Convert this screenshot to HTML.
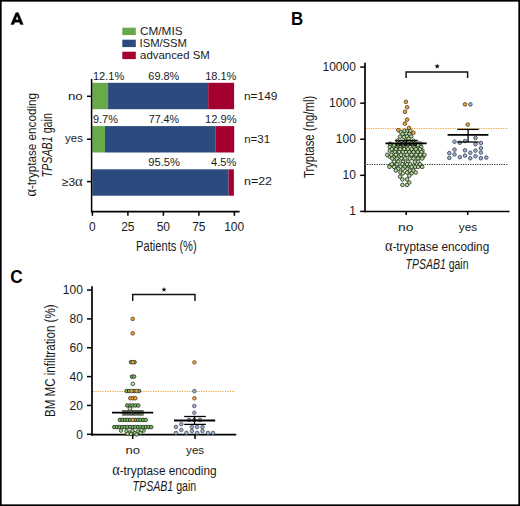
<!DOCTYPE html>
<html><head><meta charset="utf-8"><style>
html,body{margin:0;padding:0;background:#fff;}
#f{position:absolute;left:0;top:0;width:520px;height:506px;overflow:hidden;}
svg{display:block;font-family:"Liberation Sans",sans-serif;}
</style></head><body><div id="f">
<svg width="520" height="506" viewBox="0 0 520 506">
<rect x="0" y="0" width="520" height="506" fill="#fff"/>
<path fill-rule="evenodd" fill="#000" stroke="#000" stroke-width="0.3" stroke-linejoin="round" d="M10.8,24.6 L15.7,12.8 Q17.1,12.2 18.5,12.8 L23.3,24.6 L20.3,24.6 L19.4,22.2 L14.8,22.2 L13.9,24.6 Z M15.6,19.7 L18.6,19.7 L17.1,15.7 Z"/>
<rect x="122.3" y="27.7" width="13.5" height="7.4" fill="#68a94a"/>
<rect x="122.3" y="39.7" width="13.5" height="7.4" fill="#2c4a7e"/>
<rect x="122.3" y="51.7" width="13.5" height="7.4" fill="#a3002f"/>
<text x="140.01" y="34.80" font-size="11" font-weight="normal" font-style="normal" fill="#1a1a1a" textLength="42.53" lengthAdjust="spacingAndGlyphs">CM/MIS</text>
<text x="139.59" y="46.80" font-size="11" font-weight="normal" font-style="normal" fill="#1a1a1a" textLength="47.34" lengthAdjust="spacingAndGlyphs">ISM/SSM</text>
<text x="140.14" y="58.80" font-size="11" font-weight="normal" font-style="normal" fill="#1a1a1a" textLength="69.62" lengthAdjust="spacingAndGlyphs">advanced SM</text>
<rect x="92.3" y="82.8" width="15.8" height="26.4" fill="#68a94a"/>
<rect x="108.1" y="82.8" width="100.1" height="26.4" fill="#2c4a7e"/>
<rect x="208.2" y="82.8" width="25.9" height="26.4" fill="#a3002f"/>
<rect x="92.3" y="126.1" width="12.7" height="26.4" fill="#68a94a"/>
<rect x="105.0" y="126.1" width="110.7" height="26.4" fill="#2c4a7e"/>
<rect x="215.7" y="126.1" width="18.5" height="26.4" fill="#a3002f"/>
<rect x="92.3" y="169.3" width="136.3" height="26.4" fill="#2c4a7e"/>
<rect x="228.6" y="169.3" width="5.3" height="26.4" fill="#a3002f"/>
<text x="92.97" y="80.40" font-size="11" font-weight="normal" font-style="normal" fill="#1a1a1a" textLength="31.32" lengthAdjust="spacingAndGlyphs">12.1%</text>
<text x="148.36" y="80.20" font-size="11" font-weight="normal" font-style="normal" fill="#1a1a1a" textLength="30.83" lengthAdjust="spacingAndGlyphs">69.8%</text>
<text x="205.17" y="80.40" font-size="11" font-weight="normal" font-style="normal" fill="#1a1a1a" textLength="31.22" lengthAdjust="spacingAndGlyphs">18.1%</text>
<text x="92.91" y="123.20" font-size="11" font-weight="normal" font-style="normal" fill="#1a1a1a" textLength="24.97" lengthAdjust="spacingAndGlyphs">9.7%</text>
<text x="148.66" y="123.00" font-size="11" font-weight="normal" font-style="normal" fill="#1a1a1a" textLength="30.52" lengthAdjust="spacingAndGlyphs">77.4%</text>
<text x="204.96" y="123.20" font-size="11" font-weight="normal" font-style="normal" fill="#1a1a1a" textLength="31.63" lengthAdjust="spacingAndGlyphs">12.9%</text>
<text x="148.20" y="165.90" font-size="11" font-weight="normal" font-style="normal" fill="#1a1a1a" textLength="31.80" lengthAdjust="spacingAndGlyphs">95.5%</text>
<text x="211.08" y="165.90" font-size="11" font-weight="normal" font-style="normal" fill="#1a1a1a" textLength="25.41" lengthAdjust="spacingAndGlyphs">4.5%</text>
<line x1="91.6" y1="78.8" x2="91.6" y2="212.5" stroke="#000" stroke-width="1.5" />
<line x1="91.1" y1="211.7" x2="239.6" y2="211.7" stroke="#000" stroke-width="1.7" />
<line x1="87.0" y1="96.3" x2="91.6" y2="96.3" stroke="#000" stroke-width="1.5" />
<line x1="87.0" y1="139.2" x2="91.6" y2="139.2" stroke="#000" stroke-width="1.5" />
<line x1="87.0" y1="181.6" x2="91.6" y2="181.6" stroke="#000" stroke-width="1.5" />
<line x1="92.4" y1="211.7" x2="92.4" y2="215.8" stroke="#000" stroke-width="1.5" />
<line x1="127.9" y1="211.7" x2="127.9" y2="215.8" stroke="#000" stroke-width="1.5" />
<line x1="163.4" y1="211.7" x2="163.4" y2="215.8" stroke="#000" stroke-width="1.5" />
<line x1="198.9" y1="211.7" x2="198.9" y2="215.8" stroke="#000" stroke-width="1.5" />
<line x1="234.4" y1="211.7" x2="234.4" y2="215.8" stroke="#000" stroke-width="1.5" />
<text x="89.04" y="231.00" font-size="12" font-weight="normal" font-style="normal" fill="#1a1a1a" textLength="6.67" lengthAdjust="spacingAndGlyphs">0</text>
<text x="121.18" y="231.00" font-size="12" font-weight="normal" font-style="normal" fill="#1a1a1a" textLength="13.35" lengthAdjust="spacingAndGlyphs">25</text>
<text x="156.71" y="231.00" font-size="12" font-weight="normal" font-style="normal" fill="#1a1a1a" textLength="13.35" lengthAdjust="spacingAndGlyphs">50</text>
<text x="192.18" y="231.00" font-size="12" font-weight="normal" font-style="normal" fill="#1a1a1a" textLength="13.35" lengthAdjust="spacingAndGlyphs">75</text>
<text x="224.17" y="231.00" font-size="12" font-weight="normal" font-style="normal" fill="#1a1a1a" textLength="20.02" lengthAdjust="spacingAndGlyphs">100</text>
<text x="136.11" y="250.70" font-size="14" font-weight="normal" font-style="normal" fill="#1a1a1a" textLength="60.57" lengthAdjust="spacingAndGlyphs">Patients (%)</text>
<text x="67.93" y="99.80" font-size="10.8" font-weight="normal" font-style="normal" fill="#1a1a1a" textLength="14.83" lengthAdjust="spacingAndGlyphs">no</text>
<text x="65.04" y="142.40" font-size="10.8" font-weight="normal" font-style="normal" fill="#1a1a1a" textLength="17.87" lengthAdjust="spacingAndGlyphs">yes</text>
<text x="61.83" y="185.80" font-size="11.5" font-weight="normal" font-style="normal" fill="#1a1a1a" textLength="20.92" lengthAdjust="spacingAndGlyphs">≥3<tspan font-family="Liberation Serif" font-size="1.22em">α</tspan></text>
<text x="243.92" y="99.50" font-size="11.5" font-weight="normal" font-style="normal" fill="#1a1a1a" textLength="33.60" lengthAdjust="spacingAndGlyphs">n=149</text>
<text x="244.15" y="142.80" font-size="11.5" font-weight="normal" font-style="normal" fill="#1a1a1a" textLength="25.89" lengthAdjust="spacingAndGlyphs">n=31</text>
<text x="243.99" y="185.20" font-size="11.5" font-weight="normal" font-style="normal" fill="#1a1a1a" textLength="27.96" lengthAdjust="spacingAndGlyphs">n=22</text>
<text transform="translate(35.50,196.00) rotate(-90)" x="-0.57" y="0" font-size="13.4" fill="#1a1a1a" textLength="103.56" lengthAdjust="spacingAndGlyphs"><tspan font-family="Liberation Serif" font-size="1.22em">α</tspan>-tryptase encoding</text>
<text transform="translate(52.00,177.20) rotate(-90)" x="-0.21" y="0" font-size="14" font-weight="normal" font-style="normal" fill="#1a1a1a" textLength="64.30" lengthAdjust="spacingAndGlyphs"><tspan font-style="italic">TPSAB1</tspan> gain</text>
<text x="291.00" y="24.90" font-size="17.5" font-weight="bold" font-style="normal" fill="#000" textLength="12.19" lengthAdjust="spacingAndGlyphs">B</text>
<line x1="365.0" y1="62.8" x2="365.0" y2="212.3" stroke="#000" stroke-width="1.7" />
<line x1="364.2" y1="211.5" x2="509.5" y2="211.5" stroke="#000" stroke-width="1.7" />
<line x1="360.2" y1="211.4" x2="365.0" y2="211.4" stroke="#000" stroke-width="1.5" />
<text x="349.28" y="215.40" font-size="12" font-weight="normal" font-style="normal" fill="#1a1a1a" textLength="6.67" lengthAdjust="spacingAndGlyphs">1</text>
<line x1="360.2" y1="175.32" x2="365.0" y2="175.32" stroke="#000" stroke-width="1.5" />
<text x="342.50" y="179.32" font-size="12" font-weight="normal" font-style="normal" fill="#1a1a1a" textLength="13.35" lengthAdjust="spacingAndGlyphs">10</text>
<line x1="360.2" y1="139.24" x2="365.0" y2="139.24" stroke="#000" stroke-width="1.5" />
<text x="335.84" y="143.24" font-size="12" font-weight="normal" font-style="normal" fill="#1a1a1a" textLength="20.02" lengthAdjust="spacingAndGlyphs">100</text>
<line x1="360.2" y1="103.16000000000001" x2="365.0" y2="103.16000000000001" stroke="#000" stroke-width="1.5" />
<text x="329.12" y="107.16" font-size="12" font-weight="normal" font-style="normal" fill="#1a1a1a" textLength="26.70" lengthAdjust="spacingAndGlyphs">1000</text>
<line x1="360.2" y1="67.08000000000001" x2="365.0" y2="67.08000000000001" stroke="#000" stroke-width="1.5" />
<text x="322.46" y="71.08" font-size="12" font-weight="normal" font-style="normal" fill="#1a1a1a" textLength="33.37" lengthAdjust="spacingAndGlyphs">10000</text>
<line x1="406.2" y1="211.5" x2="406.2" y2="215.0" stroke="#000" stroke-width="1.5" />
<line x1="467.7" y1="211.5" x2="467.7" y2="215.0" stroke="#000" stroke-width="1.5" />
<text x="398.09" y="230.90" font-size="10.8" font-weight="normal" font-style="normal" fill="#1a1a1a" textLength="15.50" lengthAdjust="spacingAndGlyphs">no</text>
<text x="458.84" y="230.90" font-size="10.8" font-weight="normal" font-style="normal" fill="#1a1a1a" textLength="18.39" lengthAdjust="spacingAndGlyphs">yes</text>
<text x="384.93" y="251.20" font-size="13.4" fill="#1a1a1a" textLength="104.26" lengthAdjust="spacingAndGlyphs"><tspan font-family="Liberation Serif" font-size="1.22em">α</tspan>-tryptase encoding</text>
<text x="405.59" y="268.50" font-size="14" font-weight="normal" font-style="normal" fill="#1a1a1a" textLength="62.88" lengthAdjust="spacingAndGlyphs"><tspan font-style="italic">TPSAB1</tspan> gain</text>
<text transform="translate(313.80,177.90) rotate(-90)" x="-0.23" y="0" font-size="14" font-weight="normal" font-style="normal" fill="#1a1a1a" textLength="82.34" lengthAdjust="spacingAndGlyphs">Tryptase (ng/ml)</text>
<text x="10.31" y="283.00" font-size="17.5" font-weight="bold" font-style="normal" fill="#000" textLength="12.46" lengthAdjust="spacingAndGlyphs">C</text>
<line x1="92.0" y1="286.3" x2="92.0" y2="435.4" stroke="#000" stroke-width="1.7" />
<line x1="91.2" y1="434.6" x2="236.2" y2="434.6" stroke="#000" stroke-width="1.7" />
<line x1="87.0" y1="434.3" x2="92.0" y2="434.3" stroke="#000" stroke-width="1.5" />
<text x="76.16" y="438.60" font-size="12" font-weight="normal" font-style="normal" fill="#1a1a1a" textLength="6.67" lengthAdjust="spacingAndGlyphs">0</text>
<line x1="87.0" y1="405.45" x2="92.0" y2="405.45" stroke="#000" stroke-width="1.5" />
<text x="69.50" y="409.75" font-size="12" font-weight="normal" font-style="normal" fill="#1a1a1a" textLength="13.35" lengthAdjust="spacingAndGlyphs">20</text>
<line x1="87.0" y1="376.6" x2="92.0" y2="376.6" stroke="#000" stroke-width="1.5" />
<text x="69.50" y="380.90" font-size="12" font-weight="normal" font-style="normal" fill="#1a1a1a" textLength="13.35" lengthAdjust="spacingAndGlyphs">40</text>
<line x1="87.0" y1="347.75" x2="92.0" y2="347.75" stroke="#000" stroke-width="1.5" />
<text x="69.50" y="352.05" font-size="12" font-weight="normal" font-style="normal" fill="#1a1a1a" textLength="13.35" lengthAdjust="spacingAndGlyphs">60</text>
<line x1="87.0" y1="318.90000000000003" x2="92.0" y2="318.90000000000003" stroke="#000" stroke-width="1.5" />
<text x="69.50" y="323.20" font-size="12" font-weight="normal" font-style="normal" fill="#1a1a1a" textLength="13.35" lengthAdjust="spacingAndGlyphs">80</text>
<line x1="87.0" y1="290.05" x2="92.0" y2="290.05" stroke="#000" stroke-width="1.5" />
<text x="62.84" y="294.35" font-size="12" font-weight="normal" font-style="normal" fill="#1a1a1a" textLength="20.02" lengthAdjust="spacingAndGlyphs">100</text>
<line x1="132.7" y1="434.3" x2="132.7" y2="439.0" stroke="#000" stroke-width="1.5" />
<line x1="195.0" y1="434.3" x2="195.0" y2="439.0" stroke="#000" stroke-width="1.5" />
<text x="125.55" y="453.80" font-size="10.8" font-weight="normal" font-style="normal" fill="#1a1a1a" textLength="14.61" lengthAdjust="spacingAndGlyphs">no</text>
<text x="186.14" y="453.80" font-size="10.8" font-weight="normal" font-style="normal" fill="#1a1a1a" textLength="17.98" lengthAdjust="spacingAndGlyphs">yes</text>
<text x="112.13" y="474.60" font-size="13.4" fill="#1a1a1a" textLength="104.47" lengthAdjust="spacingAndGlyphs"><tspan font-family="Liberation Serif" font-size="1.22em">α</tspan>-tryptase encoding</text>
<text x="132.59" y="491.40" font-size="14" font-weight="normal" font-style="normal" fill="#1a1a1a" textLength="63.69" lengthAdjust="spacingAndGlyphs"><tspan font-style="italic">TPSAB1</tspan> gain</text>
<text transform="translate(54.50,416.10) rotate(-90)" x="-0.93" y="0" font-size="14" font-weight="normal" font-style="normal" fill="#1a1a1a" textLength="112.57" lengthAdjust="spacingAndGlyphs">BM MC infiltration (%)</text>
<path d="M366 128.5H508" stroke="#eca036" stroke-width="1" stroke-dasharray="1.2 1.2"/>
<path d="M367 164.5H508" stroke="#2a2a2a" stroke-width="1" stroke-dasharray="1.2 1.2"/>
<polyline points="406.1,77.9 406.1,72.0 467.6,72.0 467.6,77.9" fill="none" stroke="#111" stroke-width="1.45"/>
<polygon points="437.20,63.60 437.88,65.37 439.77,65.47 438.29,66.66 438.79,68.48 437.20,67.45 435.61,68.48 436.11,66.66 434.63,65.47 436.52,65.37" fill="#111"/>
<circle cx="389.80" cy="146.90" r="1.8" fill="#b6df9f" stroke="#1f271b" stroke-width="0.8"/>
<circle cx="393.20" cy="146.90" r="1.8" fill="#b6df9f" stroke="#1f271b" stroke-width="0.8"/>
<circle cx="396.60" cy="146.90" r="1.8" fill="#b6df9f" stroke="#1f271b" stroke-width="0.8"/>
<circle cx="400.20" cy="146.90" r="1.8" fill="#b6df9f" stroke="#1f271b" stroke-width="0.8"/>
<circle cx="404.00" cy="146.90" r="1.8" fill="#b6df9f" stroke="#1f271b" stroke-width="0.8"/>
<circle cx="414.20" cy="146.90" r="1.8" fill="#b6df9f" stroke="#1f271b" stroke-width="0.8"/>
<circle cx="417.60" cy="146.90" r="1.8" fill="#b6df9f" stroke="#1f271b" stroke-width="0.8"/>
<circle cx="421.20" cy="146.90" r="1.8" fill="#b6df9f" stroke="#1f271b" stroke-width="0.8"/>
<circle cx="389.80" cy="150.60" r="1.8" fill="#b6df9f" stroke="#1f271b" stroke-width="0.8"/>
<circle cx="393.60" cy="150.60" r="1.8" fill="#b6df9f" stroke="#1f271b" stroke-width="0.8"/>
<circle cx="397.60" cy="150.60" r="1.8" fill="#b6df9f" stroke="#1f271b" stroke-width="0.8"/>
<circle cx="406.00" cy="150.60" r="1.8" fill="#b6df9f" stroke="#1f271b" stroke-width="0.8"/>
<circle cx="410.00" cy="150.60" r="1.8" fill="#b6df9f" stroke="#1f271b" stroke-width="0.8"/>
<circle cx="414.00" cy="150.60" r="1.8" fill="#b6df9f" stroke="#1f271b" stroke-width="0.8"/>
<circle cx="418.00" cy="150.60" r="1.8" fill="#b6df9f" stroke="#1f271b" stroke-width="0.8"/>
<circle cx="422.50" cy="150.60" r="1.8" fill="#b6df9f" stroke="#1f271b" stroke-width="0.8"/>
<circle cx="389.60" cy="156.60" r="1.8" fill="#b6df9f" stroke="#1f271b" stroke-width="0.8"/>
<circle cx="394.00" cy="156.60" r="1.8" fill="#b6df9f" stroke="#1f271b" stroke-width="0.8"/>
<circle cx="399.00" cy="156.60" r="1.8" fill="#b6df9f" stroke="#1f271b" stroke-width="0.8"/>
<circle cx="403.40" cy="156.60" r="1.8" fill="#b6df9f" stroke="#1f271b" stroke-width="0.8"/>
<circle cx="411.00" cy="156.60" r="1.8" fill="#b6df9f" stroke="#1f271b" stroke-width="0.8"/>
<circle cx="415.00" cy="156.60" r="1.8" fill="#b6df9f" stroke="#1f271b" stroke-width="0.8"/>
<circle cx="419.60" cy="156.60" r="1.8" fill="#b6df9f" stroke="#1f271b" stroke-width="0.8"/>
<circle cx="423.20" cy="156.60" r="1.8" fill="#b6df9f" stroke="#1f271b" stroke-width="0.8"/>
<circle cx="389.80" cy="165.60" r="1.8" fill="#b6df9f" stroke="#1f271b" stroke-width="0.8"/>
<circle cx="396.00" cy="165.60" r="1.8" fill="#b6df9f" stroke="#1f271b" stroke-width="0.8"/>
<circle cx="404.80" cy="165.60" r="1.8" fill="#b6df9f" stroke="#1f271b" stroke-width="0.8"/>
<circle cx="408.80" cy="165.60" r="1.8" fill="#b6df9f" stroke="#1f271b" stroke-width="0.8"/>
<circle cx="413.80" cy="165.60" r="1.8" fill="#b6df9f" stroke="#1f271b" stroke-width="0.8"/>
<circle cx="420.60" cy="165.60" r="1.8" fill="#b6df9f" stroke="#1f271b" stroke-width="0.8"/>
<circle cx="400.70" cy="131.90" r="1.8" fill="#b6df9f" stroke="#1f271b" stroke-width="0.8"/>
<circle cx="404.50" cy="130.80" r="1.8" fill="#b6df9f" stroke="#1f271b" stroke-width="0.8"/>
<circle cx="407.30" cy="131.20" r="1.8" fill="#b6df9f" stroke="#1f271b" stroke-width="0.8"/>
<circle cx="410.40" cy="130.80" r="1.8" fill="#b6df9f" stroke="#1f271b" stroke-width="0.8"/>
<circle cx="402.50" cy="134.00" r="1.8" fill="#b6df9f" stroke="#1f271b" stroke-width="0.8"/>
<circle cx="406.30" cy="133.60" r="1.8" fill="#b6df9f" stroke="#1f271b" stroke-width="0.8"/>
<circle cx="409.40" cy="134.00" r="1.8" fill="#b6df9f" stroke="#1f271b" stroke-width="0.8"/>
<circle cx="400.00" cy="136.70" r="1.8" fill="#b6df9f" stroke="#1f271b" stroke-width="0.8"/>
<circle cx="403.90" cy="137.10" r="1.8" fill="#b6df9f" stroke="#1f271b" stroke-width="0.8"/>
<circle cx="407.00" cy="136.40" r="1.8" fill="#b6df9f" stroke="#1f271b" stroke-width="0.8"/>
<circle cx="411.10" cy="136.40" r="1.8" fill="#b6df9f" stroke="#1f271b" stroke-width="0.8"/>
<circle cx="408.70" cy="138.80" r="1.8" fill="#b6df9f" stroke="#1f271b" stroke-width="0.8"/>
<circle cx="397.50" cy="140.50" r="1.8" fill="#b6df9f" stroke="#1f271b" stroke-width="0.8"/>
<circle cx="401.50" cy="141.50" r="1.8" fill="#b6df9f" stroke="#1f271b" stroke-width="0.8"/>
<circle cx="405.50" cy="140.80" r="1.8" fill="#b6df9f" stroke="#1f271b" stroke-width="0.8"/>
<circle cx="409.50" cy="141.50" r="1.8" fill="#b6df9f" stroke="#1f271b" stroke-width="0.8"/>
<circle cx="413.50" cy="140.80" r="1.8" fill="#b6df9f" stroke="#1f271b" stroke-width="0.8"/>
<circle cx="416.50" cy="141.80" r="1.8" fill="#b6df9f" stroke="#1f271b" stroke-width="0.8"/>
<circle cx="399.50" cy="143.20" r="1.8" fill="#b6df9f" stroke="#1f271b" stroke-width="0.8"/>
<circle cx="403.50" cy="143.50" r="1.8" fill="#b6df9f" stroke="#1f271b" stroke-width="0.8"/>
<circle cx="411.50" cy="143.20" r="1.8" fill="#b6df9f" stroke="#1f271b" stroke-width="0.8"/>
<circle cx="415.00" cy="143.50" r="1.8" fill="#b6df9f" stroke="#1f271b" stroke-width="0.8"/>
<circle cx="390.00" cy="143.80" r="1.8" fill="#b6df9f" stroke="#1f271b" stroke-width="0.8"/>
<circle cx="420.50" cy="143.60" r="1.8" fill="#b6df9f" stroke="#1f271b" stroke-width="0.8"/>
<circle cx="394.10" cy="145.10" r="1.8" fill="#b6df9f" stroke="#1f271b" stroke-width="0.8"/>
<circle cx="398.20" cy="145.10" r="1.8" fill="#b6df9f" stroke="#1f271b" stroke-width="0.8"/>
<circle cx="402.90" cy="145.10" r="1.8" fill="#b6df9f" stroke="#1f271b" stroke-width="0.8"/>
<circle cx="407.90" cy="145.10" r="1.8" fill="#b6df9f" stroke="#1f271b" stroke-width="0.8"/>
<circle cx="412.50" cy="145.10" r="1.8" fill="#b6df9f" stroke="#1f271b" stroke-width="0.8"/>
<circle cx="418.10" cy="145.10" r="1.8" fill="#b6df9f" stroke="#1f271b" stroke-width="0.8"/>
<circle cx="391.80" cy="149.20" r="1.8" fill="#b6df9f" stroke="#1f271b" stroke-width="0.8"/>
<circle cx="395.90" cy="149.20" r="1.8" fill="#b6df9f" stroke="#1f271b" stroke-width="0.8"/>
<circle cx="400.10" cy="149.20" r="1.8" fill="#b6df9f" stroke="#1f271b" stroke-width="0.8"/>
<circle cx="404.20" cy="149.20" r="1.8" fill="#b6df9f" stroke="#1f271b" stroke-width="0.8"/>
<circle cx="407.90" cy="149.20" r="1.8" fill="#b6df9f" stroke="#1f271b" stroke-width="0.8"/>
<circle cx="411.60" cy="149.20" r="1.8" fill="#b6df9f" stroke="#1f271b" stroke-width="0.8"/>
<circle cx="415.80" cy="149.20" r="1.8" fill="#b6df9f" stroke="#1f271b" stroke-width="0.8"/>
<circle cx="419.90" cy="149.20" r="1.8" fill="#b6df9f" stroke="#1f271b" stroke-width="0.8"/>
<circle cx="395.00" cy="152.00" r="1.8" fill="#b6df9f" stroke="#1f271b" stroke-width="0.8"/>
<circle cx="399.20" cy="152.00" r="1.8" fill="#b6df9f" stroke="#1f271b" stroke-width="0.8"/>
<circle cx="402.90" cy="152.00" r="1.8" fill="#b6df9f" stroke="#1f271b" stroke-width="0.8"/>
<circle cx="406.00" cy="152.00" r="1.8" fill="#b6df9f" stroke="#1f271b" stroke-width="0.8"/>
<circle cx="409.30" cy="152.00" r="1.8" fill="#b6df9f" stroke="#1f271b" stroke-width="0.8"/>
<circle cx="413.50" cy="152.00" r="1.8" fill="#b6df9f" stroke="#1f271b" stroke-width="0.8"/>
<circle cx="417.60" cy="152.00" r="1.8" fill="#b6df9f" stroke="#1f271b" stroke-width="0.8"/>
<circle cx="421.50" cy="152.00" r="1.8" fill="#b6df9f" stroke="#1f271b" stroke-width="0.8"/>
<circle cx="387.20" cy="154.80" r="1.8" fill="#b6df9f" stroke="#1f271b" stroke-width="0.8"/>
<circle cx="391.30" cy="154.80" r="1.8" fill="#b6df9f" stroke="#1f271b" stroke-width="0.8"/>
<circle cx="395.90" cy="154.80" r="1.8" fill="#b6df9f" stroke="#1f271b" stroke-width="0.8"/>
<circle cx="401.00" cy="154.80" r="1.8" fill="#b6df9f" stroke="#1f271b" stroke-width="0.8"/>
<circle cx="407.00" cy="154.80" r="1.8" fill="#b6df9f" stroke="#1f271b" stroke-width="0.8"/>
<circle cx="411.60" cy="154.80" r="1.8" fill="#b6df9f" stroke="#1f271b" stroke-width="0.8"/>
<circle cx="416.20" cy="154.80" r="1.8" fill="#b6df9f" stroke="#1f271b" stroke-width="0.8"/>
<circle cx="420.40" cy="154.80" r="1.8" fill="#b6df9f" stroke="#1f271b" stroke-width="0.8"/>
<circle cx="424.50" cy="154.80" r="1.8" fill="#b6df9f" stroke="#1f271b" stroke-width="0.8"/>
<circle cx="392.20" cy="158.50" r="1.8" fill="#b6df9f" stroke="#1f271b" stroke-width="0.8"/>
<circle cx="396.90" cy="158.50" r="1.8" fill="#b6df9f" stroke="#1f271b" stroke-width="0.8"/>
<circle cx="401.50" cy="158.50" r="1.8" fill="#b6df9f" stroke="#1f271b" stroke-width="0.8"/>
<circle cx="405.20" cy="158.50" r="1.8" fill="#b6df9f" stroke="#1f271b" stroke-width="0.8"/>
<circle cx="409.80" cy="158.50" r="1.8" fill="#b6df9f" stroke="#1f271b" stroke-width="0.8"/>
<circle cx="413.50" cy="158.50" r="1.8" fill="#b6df9f" stroke="#1f271b" stroke-width="0.8"/>
<circle cx="418.10" cy="158.50" r="1.8" fill="#b6df9f" stroke="#1f271b" stroke-width="0.8"/>
<circle cx="422.20" cy="158.50" r="1.8" fill="#b6df9f" stroke="#1f271b" stroke-width="0.8"/>
<circle cx="394.10" cy="161.70" r="1.8" fill="#b6df9f" stroke="#1f271b" stroke-width="0.8"/>
<circle cx="398.20" cy="161.70" r="1.8" fill="#b6df9f" stroke="#1f271b" stroke-width="0.8"/>
<circle cx="402.90" cy="161.70" r="1.8" fill="#b6df9f" stroke="#1f271b" stroke-width="0.8"/>
<circle cx="408.00" cy="161.70" r="1.8" fill="#b6df9f" stroke="#1f271b" stroke-width="0.8"/>
<circle cx="414.90" cy="161.70" r="1.8" fill="#b6df9f" stroke="#1f271b" stroke-width="0.8"/>
<circle cx="418.10" cy="161.70" r="1.8" fill="#b6df9f" stroke="#1f271b" stroke-width="0.8"/>
<circle cx="391.80" cy="164.20" r="1.8" fill="#b6df9f" stroke="#1f271b" stroke-width="0.8"/>
<circle cx="397.00" cy="164.20" r="1.8" fill="#b6df9f" stroke="#1f271b" stroke-width="0.8"/>
<circle cx="402.40" cy="164.20" r="1.8" fill="#b6df9f" stroke="#1f271b" stroke-width="0.8"/>
<circle cx="407.00" cy="164.20" r="1.8" fill="#b6df9f" stroke="#1f271b" stroke-width="0.8"/>
<circle cx="410.20" cy="164.20" r="1.8" fill="#b6df9f" stroke="#1f271b" stroke-width="0.8"/>
<circle cx="419.90" cy="164.20" r="1.8" fill="#b6df9f" stroke="#1f271b" stroke-width="0.8"/>
<circle cx="389.50" cy="166.90" r="1.8" fill="#b6df9f" stroke="#1f271b" stroke-width="0.8"/>
<circle cx="394.10" cy="166.90" r="1.8" fill="#b6df9f" stroke="#1f271b" stroke-width="0.8"/>
<circle cx="400.50" cy="166.90" r="1.8" fill="#b6df9f" stroke="#1f271b" stroke-width="0.8"/>
<circle cx="404.70" cy="166.90" r="1.8" fill="#b6df9f" stroke="#1f271b" stroke-width="0.8"/>
<circle cx="411.60" cy="166.90" r="1.8" fill="#b6df9f" stroke="#1f271b" stroke-width="0.8"/>
<circle cx="415.30" cy="166.90" r="1.8" fill="#b6df9f" stroke="#1f271b" stroke-width="0.8"/>
<circle cx="418.10" cy="166.90" r="1.8" fill="#b6df9f" stroke="#1f271b" stroke-width="0.8"/>
<circle cx="422.20" cy="166.90" r="1.8" fill="#b6df9f" stroke="#1f271b" stroke-width="0.8"/>
<circle cx="398.20" cy="168.80" r="1.8" fill="#b6df9f" stroke="#1f271b" stroke-width="0.8"/>
<circle cx="402.90" cy="168.80" r="1.8" fill="#b6df9f" stroke="#1f271b" stroke-width="0.8"/>
<circle cx="407.50" cy="168.80" r="1.8" fill="#b6df9f" stroke="#1f271b" stroke-width="0.8"/>
<circle cx="395.90" cy="170.60" r="1.8" fill="#b6df9f" stroke="#1f271b" stroke-width="0.8"/>
<circle cx="409.80" cy="170.60" r="1.8" fill="#b6df9f" stroke="#1f271b" stroke-width="0.8"/>
<circle cx="413.50" cy="170.60" r="1.8" fill="#b6df9f" stroke="#1f271b" stroke-width="0.8"/>
<circle cx="400.50" cy="172.50" r="1.8" fill="#b6df9f" stroke="#1f271b" stroke-width="0.8"/>
<circle cx="407.00" cy="172.50" r="1.8" fill="#b6df9f" stroke="#1f271b" stroke-width="0.8"/>
<circle cx="415.80" cy="172.50" r="1.8" fill="#b6df9f" stroke="#1f271b" stroke-width="0.8"/>
<circle cx="402.90" cy="173.40" r="1.8" fill="#b6df9f" stroke="#1f271b" stroke-width="0.8"/>
<circle cx="411.60" cy="173.40" r="1.8" fill="#b6df9f" stroke="#1f271b" stroke-width="0.8"/>
<circle cx="409.30" cy="175.70" r="1.8" fill="#b6df9f" stroke="#1f271b" stroke-width="0.8"/>
<circle cx="400.10" cy="176.60" r="1.8" fill="#b6df9f" stroke="#1f271b" stroke-width="0.8"/>
<circle cx="402.40" cy="179.40" r="1.8" fill="#b6df9f" stroke="#1f271b" stroke-width="0.8"/>
<circle cx="407.00" cy="179.40" r="1.8" fill="#b6df9f" stroke="#1f271b" stroke-width="0.8"/>
<circle cx="409.30" cy="182.60" r="1.8" fill="#b6df9f" stroke="#1f271b" stroke-width="0.8"/>
<circle cx="402.40" cy="184.90" r="1.8" fill="#b6df9f" stroke="#1f271b" stroke-width="0.8"/>
<circle cx="407.00" cy="184.90" r="1.8" fill="#b6df9f" stroke="#1f271b" stroke-width="0.8"/>
<circle cx="405.90" cy="101.80" r="1.8" fill="#f2a63e" stroke="#4a3418" stroke-width="0.8"/>
<circle cx="407.10" cy="107.30" r="1.8" fill="#f2a63e" stroke="#4a3418" stroke-width="0.8"/>
<circle cx="405.00" cy="111.80" r="1.8" fill="#f2a63e" stroke="#4a3418" stroke-width="0.8"/>
<circle cx="407.10" cy="119.60" r="1.8" fill="#f2a63e" stroke="#4a3418" stroke-width="0.8"/>
<circle cx="404.90" cy="123.60" r="1.8" fill="#f2a63e" stroke="#4a3418" stroke-width="0.8"/>
<circle cx="409.00" cy="127.90" r="1.8" fill="#f2a63e" stroke="#4a3418" stroke-width="0.8"/>
<circle cx="398.30" cy="130.10" r="1.8" fill="#f2a63e" stroke="#4a3418" stroke-width="0.8"/>
<circle cx="413.40" cy="132.80" r="1.8" fill="#f2a63e" stroke="#4a3418" stroke-width="0.8"/>
<line x1="385.4" y1="143.4" x2="426.7" y2="143.4" stroke="#000" stroke-width="1.8" />
<line x1="395.0" y1="140.7" x2="417.1" y2="140.7" stroke="#000" stroke-width="1.2" />
<line x1="395.0" y1="145.0" x2="417.1" y2="145.0" stroke="#000" stroke-width="1.2" />
<line x1="406.1" y1="140.7" x2="406.1" y2="145.0" stroke="#000" stroke-width="1.2" />
<circle cx="470.40" cy="104.40" r="1.8" fill="#9eb0d2" stroke="#363c4a" stroke-width="0.8"/>
<circle cx="454.50" cy="141.70" r="1.8" fill="#9eb0d2" stroke="#363c4a" stroke-width="0.8"/>
<circle cx="459.80" cy="142.70" r="1.8" fill="#9eb0d2" stroke="#363c4a" stroke-width="0.8"/>
<circle cx="465.00" cy="141.00" r="1.8" fill="#9eb0d2" stroke="#363c4a" stroke-width="0.8"/>
<circle cx="475.50" cy="138.00" r="1.8" fill="#9eb0d2" stroke="#363c4a" stroke-width="0.8"/>
<circle cx="475.50" cy="144.20" r="1.8" fill="#9eb0d2" stroke="#363c4a" stroke-width="0.8"/>
<circle cx="480.90" cy="143.00" r="1.8" fill="#9eb0d2" stroke="#363c4a" stroke-width="0.8"/>
<circle cx="480.90" cy="148.20" r="1.8" fill="#9eb0d2" stroke="#363c4a" stroke-width="0.8"/>
<circle cx="454.50" cy="149.60" r="1.8" fill="#9eb0d2" stroke="#363c4a" stroke-width="0.8"/>
<circle cx="465.00" cy="150.30" r="1.8" fill="#9eb0d2" stroke="#363c4a" stroke-width="0.8"/>
<circle cx="475.50" cy="150.60" r="1.8" fill="#9eb0d2" stroke="#363c4a" stroke-width="0.8"/>
<circle cx="449.30" cy="153.10" r="1.8" fill="#9eb0d2" stroke="#363c4a" stroke-width="0.8"/>
<circle cx="454.50" cy="154.40" r="1.8" fill="#9eb0d2" stroke="#363c4a" stroke-width="0.8"/>
<circle cx="470.30" cy="152.80" r="1.8" fill="#9eb0d2" stroke="#363c4a" stroke-width="0.8"/>
<circle cx="480.90" cy="152.50" r="1.8" fill="#9eb0d2" stroke="#363c4a" stroke-width="0.8"/>
<circle cx="465.00" cy="155.60" r="1.8" fill="#9eb0d2" stroke="#363c4a" stroke-width="0.8"/>
<circle cx="449.30" cy="157.90" r="1.8" fill="#9eb0d2" stroke="#363c4a" stroke-width="0.8"/>
<circle cx="459.80" cy="157.20" r="1.8" fill="#9eb0d2" stroke="#363c4a" stroke-width="0.8"/>
<circle cx="470.30" cy="158.30" r="1.8" fill="#9eb0d2" stroke="#363c4a" stroke-width="0.8"/>
<circle cx="475.50" cy="156.20" r="1.8" fill="#9eb0d2" stroke="#363c4a" stroke-width="0.8"/>
<circle cx="480.90" cy="158.20" r="1.8" fill="#9eb0d2" stroke="#363c4a" stroke-width="0.8"/>
<circle cx="486.30" cy="157.60" r="1.8" fill="#9eb0d2" stroke="#363c4a" stroke-width="0.8"/>
<circle cx="465.00" cy="104.40" r="1.8" fill="#f2a63e" stroke="#4a3418" stroke-width="0.8"/>
<circle cx="467.70" cy="124.60" r="1.8" fill="#f2a63e" stroke="#4a3418" stroke-width="0.8"/>
<line x1="447.6" y1="134.8" x2="488.4" y2="134.8" stroke="#000" stroke-width="1.8" />
<line x1="457.3" y1="129.4" x2="478.7" y2="129.4" stroke="#000" stroke-width="1.3" />
<line x1="457.3" y1="142.0" x2="478.7" y2="142.0" stroke="#000" stroke-width="1.3" />
<line x1="468.1" y1="129.4" x2="468.1" y2="142.0" stroke="#000" stroke-width="1.3" />
<path d="M93 391.5H235" stroke="#eca036" stroke-width="1" stroke-dasharray="1.2 1.2"/>
<polyline points="132.7,300.9 132.7,294.5 195.0,294.5 195.0,300.9" fill="none" stroke="#111" stroke-width="1.45"/>
<polygon points="164.00,286.90 164.68,288.67 166.57,288.77 165.09,289.96 165.59,291.78 164.00,290.75 162.41,291.78 162.91,289.96 161.43,288.77 163.32,288.67" fill="#111"/>
<circle cx="132.70" cy="318.90" r="1.8" fill="#f2a63e" stroke="#4a3418" stroke-width="0.8"/>
<circle cx="132.70" cy="333.33" r="1.8" fill="#f2a63e" stroke="#4a3418" stroke-width="0.8"/>
<circle cx="131.00" cy="362.18" r="1.8" fill="#79b862" stroke="#1e2a19" stroke-width="0.8"/>
<circle cx="134.50" cy="362.18" r="1.8" fill="#79b862" stroke="#1e2a19" stroke-width="0.8"/>
<circle cx="132.75" cy="362.18" r="1.8" fill="#f2a63e" stroke="#4a3418" stroke-width="0.8"/>
<circle cx="132.00" cy="376.60" r="1.8" fill="#79b862" stroke="#1e2a19" stroke-width="0.8"/>
<circle cx="134.10" cy="376.60" r="1.8" fill="#79b862" stroke="#1e2a19" stroke-width="0.8"/>
<circle cx="132.80" cy="383.81" r="1.8" fill="#cdeebc" stroke="#1e2a19" stroke-width="0.8"/>
<circle cx="126.60" cy="391.03" r="1.8" fill="#79b862" stroke="#1e2a19" stroke-width="0.8"/>
<circle cx="129.10" cy="391.03" r="1.8" fill="#79b862" stroke="#1e2a19" stroke-width="0.8"/>
<circle cx="134.10" cy="391.03" r="1.8" fill="#79b862" stroke="#1e2a19" stroke-width="0.8"/>
<circle cx="139.10" cy="391.03" r="1.8" fill="#79b862" stroke="#1e2a19" stroke-width="0.8"/>
<circle cx="131.60" cy="391.03" r="1.8" fill="#f2a63e" stroke="#4a3418" stroke-width="0.8"/>
<circle cx="136.60" cy="391.03" r="1.8" fill="#f2a63e" stroke="#4a3418" stroke-width="0.8"/>
<circle cx="130.30" cy="398.24" r="1.8" fill="#f2a63e" stroke="#4a3418" stroke-width="0.8"/>
<circle cx="132.80" cy="398.24" r="1.8" fill="#f2a63e" stroke="#4a3418" stroke-width="0.8"/>
<circle cx="135.30" cy="398.24" r="1.8" fill="#f2a63e" stroke="#4a3418" stroke-width="0.8"/>
<circle cx="127.20" cy="405.45" r="1.8" fill="#79b862" stroke="#1e2a19" stroke-width="0.8"/>
<circle cx="129.95" cy="405.45" r="1.8" fill="#79b862" stroke="#1e2a19" stroke-width="0.8"/>
<circle cx="132.70" cy="405.45" r="1.8" fill="#79b862" stroke="#1e2a19" stroke-width="0.8"/>
<circle cx="135.45" cy="405.45" r="1.8" fill="#79b862" stroke="#1e2a19" stroke-width="0.8"/>
<circle cx="138.20" cy="405.45" r="1.8" fill="#79b862" stroke="#1e2a19" stroke-width="0.8"/>
<circle cx="129.90" cy="408.70" r="1.8" fill="#cdeebc" stroke="#1e2a19" stroke-width="0.8"/>
<circle cx="124.00" cy="412.66" r="1.8" fill="#79b862" stroke="#1e2a19" stroke-width="0.8"/>
<circle cx="126.53" cy="412.66" r="1.8" fill="#79b862" stroke="#1e2a19" stroke-width="0.8"/>
<circle cx="129.06" cy="412.66" r="1.8" fill="#79b862" stroke="#1e2a19" stroke-width="0.8"/>
<circle cx="131.59" cy="412.66" r="1.8" fill="#79b862" stroke="#1e2a19" stroke-width="0.8"/>
<circle cx="134.11" cy="412.66" r="1.8" fill="#79b862" stroke="#1e2a19" stroke-width="0.8"/>
<circle cx="136.64" cy="412.66" r="1.8" fill="#79b862" stroke="#1e2a19" stroke-width="0.8"/>
<circle cx="139.17" cy="412.66" r="1.8" fill="#79b862" stroke="#1e2a19" stroke-width="0.8"/>
<circle cx="141.70" cy="412.66" r="1.8" fill="#79b862" stroke="#1e2a19" stroke-width="0.8"/>
<circle cx="119.90" cy="419.88" r="1.8" fill="#79b862" stroke="#1e2a19" stroke-width="0.8"/>
<circle cx="122.48" cy="419.88" r="1.8" fill="#79b862" stroke="#1e2a19" stroke-width="0.8"/>
<circle cx="125.06" cy="419.88" r="1.8" fill="#79b862" stroke="#1e2a19" stroke-width="0.8"/>
<circle cx="127.64" cy="419.88" r="1.8" fill="#79b862" stroke="#1e2a19" stroke-width="0.8"/>
<circle cx="130.22" cy="419.88" r="1.8" fill="#79b862" stroke="#1e2a19" stroke-width="0.8"/>
<circle cx="135.38" cy="419.88" r="1.8" fill="#79b862" stroke="#1e2a19" stroke-width="0.8"/>
<circle cx="137.96" cy="419.88" r="1.8" fill="#79b862" stroke="#1e2a19" stroke-width="0.8"/>
<circle cx="140.54" cy="419.88" r="1.8" fill="#79b862" stroke="#1e2a19" stroke-width="0.8"/>
<circle cx="143.12" cy="419.88" r="1.8" fill="#79b862" stroke="#1e2a19" stroke-width="0.8"/>
<circle cx="145.70" cy="419.88" r="1.8" fill="#79b862" stroke="#1e2a19" stroke-width="0.8"/>
<circle cx="132.80" cy="419.88" r="1.8" fill="#f2a63e" stroke="#4a3418" stroke-width="0.8"/>
<circle cx="114.30" cy="427.09" r="1.8" fill="#79b862" stroke="#1e2a19" stroke-width="0.8"/>
<circle cx="116.94" cy="427.09" r="1.8" fill="#79b862" stroke="#1e2a19" stroke-width="0.8"/>
<circle cx="119.57" cy="427.09" r="1.8" fill="#79b862" stroke="#1e2a19" stroke-width="0.8"/>
<circle cx="122.21" cy="427.09" r="1.8" fill="#79b862" stroke="#1e2a19" stroke-width="0.8"/>
<circle cx="124.84" cy="427.09" r="1.8" fill="#79b862" stroke="#1e2a19" stroke-width="0.8"/>
<circle cx="127.48" cy="427.09" r="1.8" fill="#79b862" stroke="#1e2a19" stroke-width="0.8"/>
<circle cx="130.11" cy="427.09" r="1.8" fill="#79b862" stroke="#1e2a19" stroke-width="0.8"/>
<circle cx="132.75" cy="427.09" r="1.8" fill="#79b862" stroke="#1e2a19" stroke-width="0.8"/>
<circle cx="135.39" cy="427.09" r="1.8" fill="#79b862" stroke="#1e2a19" stroke-width="0.8"/>
<circle cx="138.02" cy="427.09" r="1.8" fill="#79b862" stroke="#1e2a19" stroke-width="0.8"/>
<circle cx="140.66" cy="427.09" r="1.8" fill="#79b862" stroke="#1e2a19" stroke-width="0.8"/>
<circle cx="143.29" cy="427.09" r="1.8" fill="#79b862" stroke="#1e2a19" stroke-width="0.8"/>
<circle cx="145.93" cy="427.09" r="1.8" fill="#79b862" stroke="#1e2a19" stroke-width="0.8"/>
<circle cx="148.56" cy="427.09" r="1.8" fill="#79b862" stroke="#1e2a19" stroke-width="0.8"/>
<circle cx="151.20" cy="427.09" r="1.8" fill="#79b862" stroke="#1e2a19" stroke-width="0.8"/>
<circle cx="121.00" cy="430.60" r="1.8" fill="#9fd488" stroke="#1e2a19" stroke-width="0.7"/>
<circle cx="143.60" cy="430.60" r="1.8" fill="#9fd488" stroke="#1e2a19" stroke-width="0.7"/>
<circle cx="126.50" cy="431.20" r="1.8" fill="#9fd488" stroke="#1e2a19" stroke-width="0.7"/>
<circle cx="129.50" cy="432.60" r="1.8" fill="#9fd488" stroke="#1e2a19" stroke-width="0.7"/>
<circle cx="132.50" cy="431.00" r="1.8" fill="#9fd488" stroke="#1e2a19" stroke-width="0.7"/>
<circle cx="135.00" cy="433.20" r="1.8" fill="#9fd488" stroke="#1e2a19" stroke-width="0.7"/>
<circle cx="138.00" cy="431.50" r="1.8" fill="#9fd488" stroke="#1e2a19" stroke-width="0.7"/>
<circle cx="140.50" cy="432.80" r="1.8" fill="#9fd488" stroke="#1e2a19" stroke-width="0.7"/>
<circle cx="131.00" cy="434.00" r="1.8" fill="#9fd488" stroke="#1e2a19" stroke-width="0.7"/>
<circle cx="136.50" cy="434.50" r="1.8" fill="#9fd488" stroke="#1e2a19" stroke-width="0.7"/>
<circle cx="127.50" cy="433.80" r="1.8" fill="#9fd488" stroke="#1e2a19" stroke-width="0.7"/>
<circle cx="141.50" cy="430.00" r="1.8" fill="#9fd488" stroke="#1e2a19" stroke-width="0.7"/>
<line x1="112.0" y1="412.7" x2="153.2" y2="412.7" stroke="#000" stroke-width="1.8" />
<line x1="121.9" y1="410.8" x2="143.8" y2="410.8" stroke="#555" stroke-width="1.3" />
<line x1="121.9" y1="415.0" x2="143.8" y2="415.0" stroke="#555" stroke-width="1.3" />
<line x1="132.7" y1="410.8" x2="132.7" y2="415.0" stroke="#333" stroke-width="1.2" />
<circle cx="194.40" cy="362.40" r="1.8" fill="#f2a63e" stroke="#4a3418" stroke-width="0.7"/>
<circle cx="194.40" cy="391.10" r="1.8" fill="#9eb0d2" stroke="#363c4a" stroke-width="0.7"/>
<circle cx="194.40" cy="398.30" r="1.8" fill="#f2a63e" stroke="#4a3418" stroke-width="0.7"/>
<circle cx="194.30" cy="406.00" r="1.8" fill="#9eb0d2" stroke="#363c4a" stroke-width="0.7"/>
<circle cx="194.30" cy="412.70" r="1.8" fill="#9eb0d2" stroke="#363c4a" stroke-width="0.7"/>
<circle cx="189.00" cy="419.90" r="1.8" fill="#9eb0d2" stroke="#363c4a" stroke-width="0.7"/>
<circle cx="194.30" cy="419.90" r="1.8" fill="#9eb0d2" stroke="#363c4a" stroke-width="0.7"/>
<circle cx="200.00" cy="419.90" r="1.8" fill="#9eb0d2" stroke="#363c4a" stroke-width="0.7"/>
<circle cx="181.30" cy="424.20" r="1.8" fill="#9eb0d2" stroke="#363c4a" stroke-width="0.7"/>
<circle cx="176.00" cy="426.90" r="1.8" fill="#9eb0d2" stroke="#363c4a" stroke-width="0.7"/>
<circle cx="191.90" cy="427.10" r="1.8" fill="#9eb0d2" stroke="#363c4a" stroke-width="0.7"/>
<circle cx="197.10" cy="427.10" r="1.8" fill="#9eb0d2" stroke="#363c4a" stroke-width="0.7"/>
<circle cx="202.50" cy="427.10" r="1.8" fill="#9eb0d2" stroke="#363c4a" stroke-width="0.7"/>
<circle cx="181.30" cy="430.00" r="1.8" fill="#9eb0d2" stroke="#363c4a" stroke-width="0.7"/>
<circle cx="191.90" cy="431.00" r="1.8" fill="#9eb0d2" stroke="#363c4a" stroke-width="0.7"/>
<circle cx="202.50" cy="431.00" r="1.8" fill="#9eb0d2" stroke="#363c4a" stroke-width="0.7"/>
<circle cx="176.00" cy="432.90" r="1.8" fill="#9eb0d2" stroke="#363c4a" stroke-width="0.7"/>
<circle cx="186.50" cy="432.90" r="1.8" fill="#9eb0d2" stroke="#363c4a" stroke-width="0.7"/>
<circle cx="197.10" cy="432.90" r="1.8" fill="#9eb0d2" stroke="#363c4a" stroke-width="0.7"/>
<circle cx="208.00" cy="432.90" r="1.8" fill="#9eb0d2" stroke="#363c4a" stroke-width="0.7"/>
<circle cx="213.00" cy="432.90" r="1.8" fill="#9eb0d2" stroke="#363c4a" stroke-width="0.7"/>
<line x1="174.0" y1="420.5" x2="215.2" y2="420.5" stroke="#000" stroke-width="1.8" />
<line x1="184.2" y1="416.5" x2="205.8" y2="416.5" stroke="#000" stroke-width="1.3" />
<line x1="184.2" y1="424.4" x2="205.8" y2="424.4" stroke="#000" stroke-width="1.3" />
<line x1="194.5" y1="416.5" x2="194.5" y2="424.4" stroke="#000" stroke-width="1.3" />
<rect x="0.82" y="0.82" width="518.36" height="504.36" fill="none" stroke="#000" stroke-width="1.65"/>
</svg></div></body></html>
